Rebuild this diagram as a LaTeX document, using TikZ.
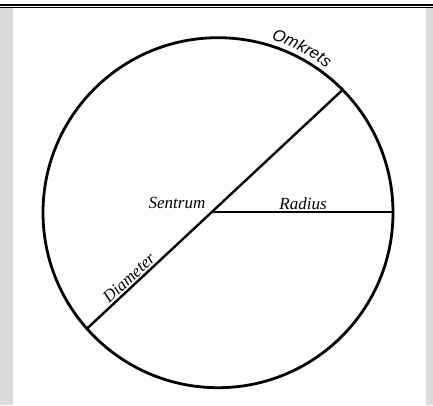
\documentclass[tikz,border=0pt]{standalone}
\usepackage{fontspec}
\setmainfont{Liberation Serif}
\setsansfont{Liberation Sans}
\usetikzlibrary{decorations.text}
\definecolor{sidegray}{HTML}{DADADA}
\tikzset{
  lbl/.style={font=\fontsize{17pt}{19pt}\selectfont\itshape, inner sep=1pt},
  stroke/.style={line width=2.4pt, black},
}
\begin{document}
\begin{tikzpicture}[x=1pt,y=1pt]
\useasboundingbox (0,0) rectangle (433,405);
\fill[white] (0,0) rectangle (433,405);
% side strips
\fill[sidegray] (0,0) rectangle (12.7,396.5);
\fill[sidegray] (426,0) rectangle (433,396.5);
% top rules
\draw[line width=2pt] (0,399.7) -- (433,399.7);
\draw[line width=1pt] (0,397.2) -- (433,397.2);
% circle
\node[circle, draw, line width=2.8pt, minimum size=350pt, inner sep=0pt] (circ) at (218,192.3) {};
% points
\coordinate (S) at (213,193);
\coordinate (R) at (393,193);
\coordinate (A) at (341.7,314.3);
\coordinate (B) at (87.3,76.7);
% lines
\draw[stroke] (B) -- (A);
\draw[stroke] (S) -- (R);
% labels
\node[lbl] (sentrum) at (177,202.5) {Sentrum};
\path (S) -- (R) node[lbl, midway, above=1.5pt] (radius) {Radius};
\path (B) -- (A) node[lbl, pos=0.186, sloped, above=1.5pt] (diameter) {Diameter};
\path[decorate, decoration={text along path, text align=center,
  text={|\fontsize{16.5pt}{18pt}\selectfont\sffamily\itshape|Omkrets}}]
  (circ.center) ++(82:181) arc[start angle=82, end angle=44, radius=181];
\end{tikzpicture}
\end{document}
